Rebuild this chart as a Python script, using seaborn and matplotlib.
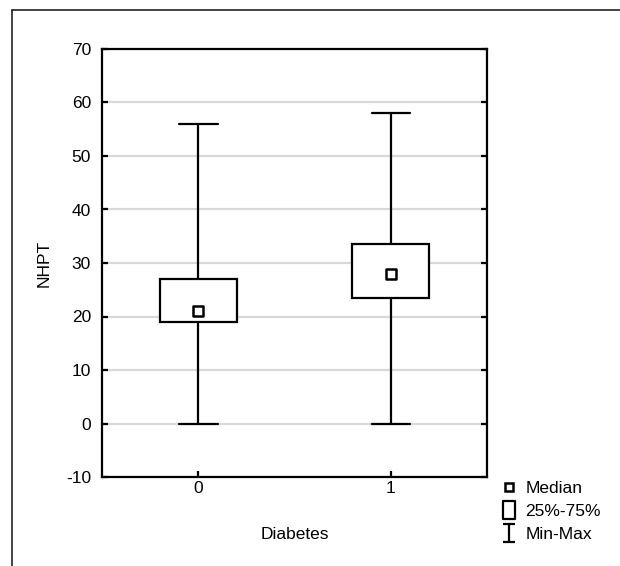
import numpy as np
import pandas as pd
import matplotlib
matplotlib.use("Agg")
import matplotlib.pyplot as plt
from matplotlib.lines import Line2D
from matplotlib.path import Path
import seaborn as sns

# ====================================
# DADOS
# ====================================

grupos = ["0", "1"]
minimos = [0, 0]
q1 = [19, 23.5]
medianas = [21, 28]
q3 = [27, 33.5]
maximos = [56, 58]

y_ticks = [-10, 0, 10, 20, 30, 40, 50, 60, 70]

# cinco pontos por grupo -> percentis 0/25/50/75/100 batem exatamente
linhas = []
for g, a, b, c, d, e in zip(grupos, minimos, q1, medianas, q3, maximos):
    for v in (a, b, c, d, e):
        linhas.append({"Diabetes": g, "NHPT": v})
df = pd.DataFrame(linhas)
df_med = pd.DataFrame({"Diabetes": grupos, "NHPT": medianas})

# ====================================
# ESTILO
# ====================================

sns.set_style("white")
plt.rcParams["font.family"] = ["Liberation Sans", "DejaVu Sans"]
fs = 12.5
plt.rcParams["font.size"] = fs
plt.rcParams["text.color"] = "black"
plt.rcParams["axes.labelcolor"] = "black"
plt.rcParams["xtick.color"] = "black"
plt.rcParams["ytick.color"] = "black"

fig = plt.figure(figsize=(6.2, 5.66), dpi=100)
ax = fig.add_axes([102 / 620, 1 - 477 / 566, 385 / 620, 428 / 566])

# moldura externa (só topo e esquerda)
fig.add_artist(Line2D([12 / 620, 1], [1 - 10 / 566] * 2, color="#222222", lw=1.2,
                      transform=fig.transFigure))
fig.add_artist(Line2D([12 / 620] * 2, [0, 1 - 10 / 566], color="#222222", lw=1.2,
                      transform=fig.transFigure))

# ====================================
# BOXPLOT
# ====================================

sns.boxplot(
    data=df,
    x="Diabetes",
    y="NHPT",
    order=grupos,
    whis=(0, 100),
    width=0.4,
    color="white",
    linecolor="black",
    linewidth=1.6,
    showfliers=False,
    medianprops={"visible": False},
    ax=ax,
    zorder=3,
)

sns.scatterplot(
    data=df_med,
    x="Diabetes",
    y="NHPT",
    marker="s",
    s=45,
    facecolor="white",
    edgecolor="black",
    linewidth=1.8,
    ax=ax,
    zorder=4,
)

# ====================================
# EIXOS
# ====================================

ax.set_xlim(-0.5, 1.5)
ax.set_ylim(-10, 70)
ax.set_yticks(y_ticks)
ax.set_yticklabels([str(t) for t in y_ticks])
ax.yaxis.grid(True, color="#d8d8d8", lw=1.6, zorder=0)
ax.set_axisbelow(True)

for s in ax.spines.values():
    s.set_color("black")
    s.set_linewidth(1.6)

ax.tick_params(axis="y", direction="in", length=4, width=1.6, left=True, right=True,
               labelsize=fs, pad=8)
ax.tick_params(axis="x", direction="in", length=4, width=1.6, bottom=True,
               labelsize=fs, pad=3)

ax.set_xlabel("Diabetes", fontsize=fs, labelpad=22)
ax.set_ylabel("NHPT", fontsize=fs, labelpad=10)

# ====================================
# LEGENDA
# ====================================

caixa = Path([(-0.35, -0.5), (0.35, -0.5), (0.35, 0.5), (-0.35, 0.5), (-0.35, -0.5)],
             [Path.MOVETO, Path.LINETO, Path.LINETO, Path.LINETO, Path.CLOSEPOLY])
barra = Path([(-0.35, 0.5), (0.35, 0.5), (0, 0.5), (0, -0.5), (-0.35, -0.5), (0.35, -0.5)],
             [Path.MOVETO, Path.LINETO, Path.MOVETO, Path.LINETO, Path.MOVETO, Path.LINETO])

handles = [
    Line2D([], [], ls="none", marker="s", markersize=5.5, markerfacecolor="white",
           markeredgecolor="black", markeredgewidth=1.8),
    Line2D([], [], ls="none", marker=caixa, markersize=13, markerfacecolor="white",
           markeredgecolor="black", markeredgewidth=1.6),
    Line2D([], [], ls="none", marker=barra, markersize=13, markerfacecolor="none",
           markeredgecolor="black", markeredgewidth=1.6),
]
ax.legend(
    handles,
    ["Median", "25%-75%", "Min-Max"],
    loc="upper left",
    bbox_to_anchor=(490 / 620, 1 - 472 / 566),
    bbox_transform=fig.transFigure,
    frameon=False,
    handlelength=1.2,
    handletextpad=0.35,
    labelspacing=0.45,
    fontsize=fs,
    borderpad=0,
)

plt.savefig("out.png", dpi=100)
plt.close()
